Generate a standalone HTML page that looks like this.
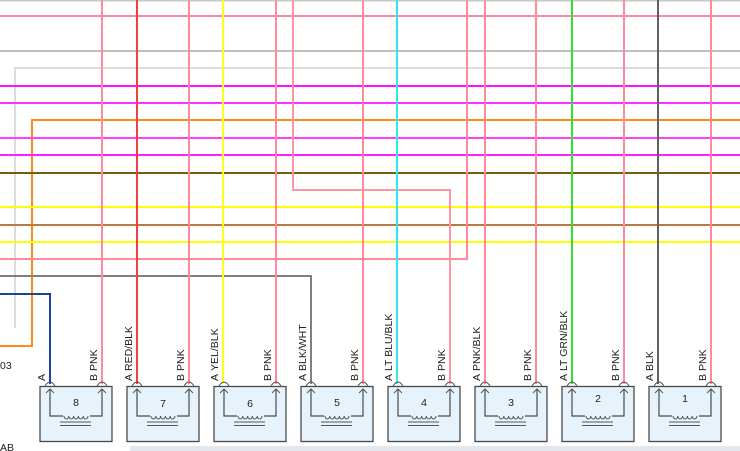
<!DOCTYPE html>
<html><head><meta charset="utf-8"><style>
html,body{margin:0;padding:0;background:#fff;width:740px;height:451px;overflow:hidden}
svg{display:block}
text{font-family:"Liberation Sans",sans-serif;font-size:10.5px;fill:#222}
</style></head><body>
<svg width="740" height="451" viewBox="0 0 740 451" xmlns="http://www.w3.org/2000/svg">
<defs>
<g id="k">
<rect x="-10" y="386.5" width="72" height="55" fill="#e6f3fc" stroke="#4a4a4a" stroke-width="1.3"/>
<polyline points="0,389 0,416 52,416 52,389" fill="none" stroke="#4a4a4a" stroke-width="1.2"/>
<path d="M-5,386 Q0,378 5,386 M47,386 Q52,378 57,386" fill="none" stroke="#555"/>
<polyline points="-4,393 0,389 4,393" fill="none" stroke="#555"/>
<polyline points="48,393 52,389 56,393" fill="none" stroke="#555"/>
<rect x="13" y="413" width="27" height="5" fill="#e6f3fc"/>
<path d="M14,416 a2.4,3 0 0 0 4.8,0 a2.4,3 0 0 0 4.8,0 a2.4,3 0 0 0 4.8,0 a2.4,3 0 0 0 4.8,0 a2.4,3 0 0 0 4.8,0" fill="none" stroke="#555"/>
<line x1="10" y1="422" x2="41" y2="422" stroke="#555"/>
<line x1="10" y1="425.5" x2="41" y2="425.5" stroke="#555"/>
</g>
</defs>
<g fill="none" stroke-width="2">
<line x1="0" y1="0.5" x2="740" y2="0.5" stroke="#c8c8c8"/>
<line x1="0" y1="16" x2="740" y2="16" stroke="#ff8aa0"/>
<line x1="0" y1="51" x2="740" y2="51" stroke="#c0c0c0"/>
<polyline points="15,328 15,68 740,68" stroke="#dddddd"/>
<line x1="0" y1="86" x2="740" y2="86" stroke="#ff10ff"/>
<line x1="0" y1="103" x2="740" y2="103" stroke="#ff30ff"/>
<polyline points="0,346 32,346 32,120 740,120" stroke="#ff8a20"/>
<line x1="0" y1="138" x2="740" y2="138" stroke="#ff40ff"/>
<line x1="0" y1="155" x2="740" y2="155" stroke="#ff20ff"/>
<line x1="0" y1="173" x2="740" y2="173" stroke="#7a5a10"/>
<line x1="0" y1="207" x2="740" y2="207" stroke="#ffff00"/>
<line x1="0" y1="225" x2="740" y2="225" stroke="#c07840"/>
<line x1="0" y1="242" x2="740" y2="242" stroke="#ffff00"/>
<polyline points="0,259 467,259 467,0" stroke="#ff8aa0"/>
<polyline points="0,276 311,276 311,384" stroke="#808080"/>
<polyline points="0,294 50,294 50,384" stroke="#2040a0"/>
<line x1="102" y1="0" x2="102" y2="384" stroke="#ff8aa0"/>
<line x1="137" y1="0" x2="137" y2="384" stroke="#f04040"/>
<line x1="189" y1="0" x2="189" y2="384" stroke="#ff8aa0"/>
<line x1="223" y1="0" x2="223" y2="384" stroke="#ffff20"/>
<line x1="276" y1="0" x2="276" y2="384" stroke="#ff8aa0"/>
<polyline points="293,0 293,190 450,190 450,384" stroke="#ff94a8"/>
<line x1="363" y1="0" x2="363" y2="384" stroke="#ff8aa0"/>
<line x1="397" y1="0" x2="397" y2="384" stroke="#30e8f0"/>
<line x1="485" y1="0" x2="485" y2="384" stroke="#ff8aa0"/>
<line x1="536" y1="0" x2="536" y2="384" stroke="#ff8aa0"/>
<line x1="572" y1="0" x2="572" y2="384" stroke="#30e030"/>
<line x1="624" y1="0" x2="624" y2="384" stroke="#ff8aa0"/>
<line x1="658" y1="0" x2="658" y2="384" stroke="#606060"/>
<line x1="711" y1="0" x2="711" y2="384" stroke="#ff8aa0"/>
</g>
<rect x="130" y="446" width="610" height="5" fill="#e4e8ee"/>
<text x="0" y="369">03</text>
<text x="0" y="451">AB</text>

<use href="#k" x="50"/>
<use href="#k" x="137"/>
<use href="#k" x="224"/>
<use href="#k" x="311"/>
<use href="#k" x="398"/>
<use href="#k" x="485"/>
<use href="#k" x="572"/>
<use href="#k" x="659"/>

<g font-size="11">
<text x="76" y="406" text-anchor="middle">8</text>
<text x="163" y="407" text-anchor="middle">7</text>
<text x="250" y="407" text-anchor="middle">6</text>
<text x="337" y="406" text-anchor="middle">5</text>
<text x="424" y="406" text-anchor="middle">4</text>
<text x="511" y="406" text-anchor="middle">3</text>
<text x="598" y="402" text-anchor="middle">2</text>
<text x="685" y="402" text-anchor="middle">1</text>
</g>

<g>
<text transform="translate(45,381) rotate(-90)">A</text>
<text transform="translate(97,381) rotate(-90)">B</text>
<text transform="translate(97,371) rotate(-90)">PNK</text>
<text transform="translate(132,381) rotate(-90)">A</text>
<text transform="translate(132,371) rotate(-90)">RED/BLK</text>
<text transform="translate(184,381) rotate(-90)">B</text>
<text transform="translate(184,371) rotate(-90)">PNK</text>
<text transform="translate(218,381) rotate(-90)">A</text>
<text transform="translate(218,371) rotate(-90)">YEL/BLK</text>
<text transform="translate(271,381) rotate(-90)">B</text>
<text transform="translate(271,371) rotate(-90)">PNK</text>
<text transform="translate(306,381) rotate(-90)">A</text>
<text transform="translate(306,371) rotate(-90)">BLK/WHT</text>
<text transform="translate(358,381) rotate(-90)">B</text>
<text transform="translate(358,371) rotate(-90)">PNK</text>
<text transform="translate(392,381) rotate(-90)">A</text>
<text transform="translate(392,371) rotate(-90)">LT BLU/BLK</text>
<text transform="translate(445,381) rotate(-90)">B</text>
<text transform="translate(445,371) rotate(-90)">PNK</text>
<text transform="translate(480,381) rotate(-90)">A</text>
<text transform="translate(480,371) rotate(-90)">PNK/BLK</text>
<text transform="translate(531,381) rotate(-90)">B</text>
<text transform="translate(531,371) rotate(-90)">PNK</text>
<text transform="translate(567,381) rotate(-90)">A</text>
<text transform="translate(567,371) rotate(-90)">LT GRN/BLK</text>
<text transform="translate(619,381) rotate(-90)">B</text>
<text transform="translate(619,371) rotate(-90)">PNK</text>
<text transform="translate(653,381) rotate(-90)">A</text>
<text transform="translate(653,371) rotate(-90)">BLK</text>
<text transform="translate(706,381) rotate(-90)">B</text>
<text transform="translate(706,371) rotate(-90)">PNK</text>
</g>
</svg>
</body></html>
